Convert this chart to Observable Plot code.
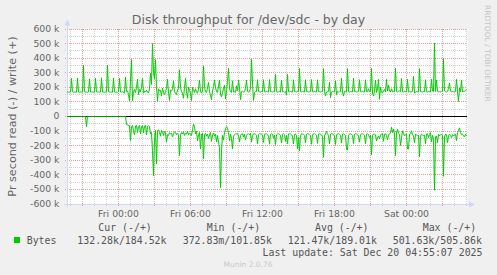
<!DOCTYPE html>
<html><head><meta charset="utf-8">
<script src="https://cdn.jsdelivr.net/npm/d3@7"></script>
<script src="https://cdn.jsdelivr.net/npm/@observablehq/plot@0.6"></script>
<style>
html,body{margin:0;padding:0;background:#F0F0F0;}
#chart{width:497px;height:275px;overflow:hidden;}
</style></head><body><div id="chart"></div>
<script>
// ---- data (values in kB/s), one sample every 5 minutes ----
const startTime = "2025-12-18T19:45:00Z";
const endTime = "2025-12-20T05:05:00Z";
const stepMinutes = 5;
const writeK = [
168,166,167,168,262,170, 167,168,167,166,264,168, 167,168,168,167,350,170, 168,167,166,168,258,168,
167,168,167,166,264,169, 168,167,168,167,265,168, 167,166,168,167,350,171, 168,167,168,166,263,168,
166,168,167,172,262,168, 167,170,168,160,270,172, 175,150,108,240,390,108, 170,185,165,200,255,150,
185,170,200,260,160,175, 168,180,170,160,190,298, 220,500,295,260,390,200, 105,190,175,180,140,195,
165,150,170,190,255,165, 110,180,175,190,245,170, 160,150,180,195,320,200, 170,160,125,200,260,170,
125,200,180,160,110,200, 180,165,190,170,160,185, 250,170,160,175,345,200, 170,165,195,235,170,150,
115,175,205,250,200,170, 165,210,250,150,135,160, 190,215,120,180,240,330, 190,170,165,245,168,170,
165,210,175,250,200,115, 170,172,168,170,190,250, 172,168,170,200,390,230, 110,165,170,172,252,172,
170,168,172,170,252,170, 168,172,170,168,253,172, 170,168,172,170,289,172, 168,170,172,168,250,170,
172,168,170,150,289,170, 168,172,170,168,252,172, 170,168,172,170,328,172, 168,172,170,168,252,170,
172,168,170,172,253,170, 168,172,170,168,252,172, 170,168,172,170,328,172, 140,168,170,172,236,130,
168,172,170,168,245,150, 172,168,170,172,262,168, 140,172,170,168,328,172, 168,172,170,168,262,170,
172,168,170,172,252,170, 168,172,170,168,252,172, 170,190,168,172,328,160, 140,175,250,165,190,255,
118,200,170,160,175,185, 170,255,175,215,175,168, 190,168,172,170,330,172, 168,172,175,170,260,170,
168,172,170,168,255,170, 172,168,170,172,275,160, 168,172,170,168,328,172, 170,168,172,170,252,170,
168,172,170,168,255,175, 170,504,172,250,175,168, 170,168,172,175,396,175, 170,168,172,190,230,175,
168,172,170,168,172,255, 175,103,195,170,250,168, 172,170,180,184
];
const readK = [
0,0,0,0,0,0, 0,0,0,0,0,0, 0,0,0,0,0,0, 0,70,0,0,0,0,
0,0,0,0,0,0, 0,0,0,0,0,0, 0,0,0,0,0,0, 0,0,0,0,0,0,
0,0,0,0,0,0, 0,0,0,0,0,55, 58,60,62,165,70,62, 95,125,65,62,110,68,
62,118,70,62,112,65, 62,125,70,62,68,120, 110,235,405,150,95,325, 100,90,110,135,95,105,
130,100,110,176,125,130, 110,120,115,140,118,105, 108,125,115,130,268,125, 110,120,105,130,115,120,
100,125,115,120,130,90, 52,70,120,100,166,125, 110,222,120,115,290,125, 115,135,120,150,125,110,
170,125,115,135,120,175, 130,176,215,490,236,130, 160,110,85,70,80,110, 165,120,150,222,135,125,
118,120,115,135,175,130, 120,118,140,120,160,130, 120,118,125,115,176,130, 120,118,122,130,186,124,
118,120,122,128,178,122, 120,118,124,135,190,122, 118,122,150,128,192,125, 120,118,122,130,182,122,
118,124,170,130,186,120, 118,120,125,135,188,124, 120,130,222,140,235,130, 118,120,122,130,180,122,
118,120,125,132,190,124, 120,118,122,130,184,120, 118,122,125,140,280,130, 120,102,118,130,188,122,
118,120,124,135,192,125, 120,118,122,130,182,122, 118,124,130,224,229,130, 120,118,122,130,185,122,
118,120,125,135,176,124, 120,118,122,130,186,121, 118,125,145,130,263,128, 121,120,125,167,145,133,
155,125,121,118,170,121, 118,130,160,125,121,110, 73,110,87,121,268,110, 87,115,121,199,150,98,
115,133,125,121,222,222, 121,118,98,125,133,180, 121,125,133,130,275,135, 121,125,133,128,185,121,
118,145,125,110,175,130, 155,505,140,133,180,121, 133,125,121,130,410,140, 121,125,180,133,121,130,
145,125,133,125,121,165, 110,98,78,110,125,121, 133,140,121,132
];
const yTickValues = [600,500,400,300,200,100,0,-100,-200,-300,-400,-500,-600];
const yTickLabels = ["600 k","500 k","400 k","300 k","200 k","100 k","0","-100 k","-200 k","-300 k","-400 k","-500 k","-600 k"];
const xLabelTimes = ["2025-12-19T00:00:00Z","2025-12-19T06:00:00Z","2025-12-19T12:00:00Z","2025-12-19T18:00:00Z","2025-12-20T00:00:00Z"];
const title = "Disk throughput for /dev/sdc - by day";
const yLabel = "Pr second read (-) / write (+)";
const seriesName = "Bytes";
const legendHeaders = ["Cur (-/+)", "Min (-/+)", "Avg (-/+)", "Max (-/+)"];
const legendValues = ["132.28k/184.52k", "372.83m/101.85k", "121.47k/189.01k", "501.63k/505.86k"];
const lastUpdate = "Last update: Sat Dec 20 04:55:07 2025";
const footer = "Munin 2.0.76";
const watermark = "RRDTOOL / TOBI OETIKER";

// ---- build ----
const t0 = new Date(startTime), t1 = new Date(endTime);
const tAt = i => new Date(t0.getTime() + i * stepMinutes * 60000);
const writeRows = writeK.map((v, i) => ({t: tAt(i), v: v * 1000}));
const readRows = readK.map((v, i) => ({t: tAt(i), v: -v * 1000}));
const minorHours = d3.utcHour.range(t0, t1);
const majorHours = d3.utcHour.every(3).range(t0, t1);
const minorY = d3.range(-600000, 600001, 50000);
const majorY = yTickValues.map(v => v * 1000);
const GREEN = "#00CC00", MINOR = "#d0d0d0", MAJOR = "#e4a0a0", AXIS = "#CFD6F8";

const plot = Plot.plot({
  width: 497, height: 275,
  marginLeft: 67, marginRight: 30, marginTop: 28.5, marginBottom: 71.5,
  style: {background: "#F0F0F0", fontFamily: "'DejaVu Sans', sans-serif", fontSize: "9.3px", color: "#666666", overflow: "visible"},
  x: {type: "utc", domain: [t0, t1], ticks: xLabelTimes.map(s => new Date(s)), tickFormat: d3.utcFormat("%a %H:%M"), tickSize: 0, tickPadding: 6, label: null},
  y: {domain: [-600000, 600000], ticks: majorY, tickFormat: (d) => yTickLabels[majorY.indexOf(d)], tickSize: 0, tickPadding: 8, label: null},
  marks: [
    Plot.frame({fill: "white", stroke: null}),
    Plot.ruleX(minorHours, {stroke: MINOR, strokeDasharray: "1,1", insetBottom: -2, shapeRendering: "crispEdges"}),
    Plot.ruleY(minorY, {stroke: MINOR, strokeDasharray: "1,1", insetLeft: -2, shapeRendering: "crispEdges"}),
    Plot.ruleX(majorHours, {stroke: MAJOR, strokeDasharray: "1,1", insetBottom: -2, shapeRendering: "crispEdges"}),
    Plot.ruleY(majorY, {stroke: MAJOR, strokeDasharray: "1,1", insetLeft: -2, shapeRendering: "crispEdges"}),
    Plot.ruleY([-600000], {stroke: AXIS, insetLeft: -3, insetRight: -2, shapeRendering: "crispEdges"}),
    Plot.ruleX([t0], {stroke: AXIS, insetTop: -4, insetBottom: -3, shapeRendering: "crispEdges"}),
    Plot.ruleY([0], {stroke: "#000000", shapeRendering: "crispEdges"}),
    Plot.line(writeRows, {x: "t", y: "v", stroke: GREEN, strokeWidth: 1}),
    Plot.line(readRows, {x: "t", y: "v", stroke: GREEN, strokeWidth: 1})
  ]
});
document.getElementById("chart").appendChild(plot);

// decorations positioned from the plot's scales
const xs = plot.scale("x"), ys = plot.scale("y");
const svg = d3.select(plot);
const xL = Math.round(xs.apply(t0)) + 0.5, xR = xs.range[1];
const yTop = ys.apply(600000), yBot = Math.round(ys.apply(-600000)) + 0.5;
svg.append("path").attr("d", `M${xL - 3},${yTop - 3}L${xL + 3},${yTop - 3}L${xL},${yTop - 9}Z`).attr("fill", AXIS);
svg.append("path").attr("d", `M${xR + 2},${yBot - 3}L${xR + 2},${yBot + 3}L${xR + 8},${yBot}Z`).attr("fill", AXIS);

const W = 497;
const addText = (x, y, str, opts) => {
  const t = svg.append("text").attr("x", x).attr("y", y)
    .attr("text-anchor", opts.anchor || "start")
    .attr("font-family", opts.family || "'DejaVu Sans', sans-serif")
    .attr("font-size", opts.size).attr("fill", opts.fill || "#555555").text(str);
  if (opts.transform) t.attr("transform", opts.transform);
  return t;
};
addText(W / 2, 23.5, title, {anchor: "middle", size: "12.5px", fill: "#666666"});
addText(0, 0, yLabel, {anchor: "middle", size: "11.2px", fill: "#666666", transform: `translate(15.5,${(yTop + yBot) / 2}) rotate(-90)`});
addText(0, 0, watermark, {anchor: "start", size: "7.5px", fill: "#c4c4c4", transform: "translate(485,5) rotate(90)"});

const mono = "'DejaVu Sans Mono', monospace";
const headerX = [98.3, 206.7, 315, 422.7];
const valueX = [77.3, 182.7, 287.7, 392.7];
legendHeaders.forEach((h, i) => addText(headerX[i], 230.5, h, {family: mono, size: "9.9px"}));
svg.append("rect").attr("x", 14).attr("y", 237).attr("width", 6).attr("height", 6).attr("fill", GREEN);
addText(26.7, 243.5, seriesName, {family: mono, size: "9.9px"});
legendValues.forEach((v, i) => addText(valueX[i], 243.5, v, {family: mono, size: "9.9px"}));
addText(482.5, 255.5, lastUpdate, {anchor: "end", family: mono, size: "9.9px"});
addText(248, 266.5, footer, {anchor: "middle", size: "7.5px", fill: "#c8c8c8"});
</script></body></html>
